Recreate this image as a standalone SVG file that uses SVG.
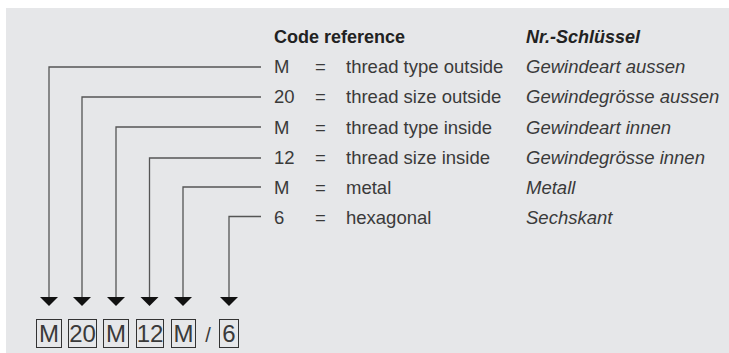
<svg xmlns="http://www.w3.org/2000/svg" width="729" height="353" viewBox="0 0 729 353">
<defs>
<style>
.t{font-family:"Liberation Sans",Arial,sans-serif;font-size:18.5px;fill:#3a3a3a}
.g{font-family:"Liberation Sans",Arial,sans-serif;font-size:18.5px;font-style:italic;fill:#3a3a3a}
.h{font-family:"Liberation Sans",Arial,sans-serif;font-size:18px;font-weight:bold;fill:#222}
.b{font-family:"Liberation Sans",Arial,sans-serif;font-size:24px;fill:#3a3a3a;text-anchor:middle}
.box{fill:none;stroke:#333;stroke-width:1}
.ln{fill:none;stroke:#555;stroke-width:1.3}
.ah{fill:#111}
</style>
</defs>
<rect x="6" y="8" width="723" height="345" fill="#e6e7e9"/>
<g id="header">
<text class="h" x="274" y="43">Code reference</text>
<text class="h" x="526" y="43" font-style="italic">Nr.-Schlüssel</text>
</g>
<g id="row1">
<text class="t" x="274" y="73">M</text><text class="t" x="315" y="73">=</text>
<text class="t" x="346" y="73">thread type outside</text><text class="g" x="526" y="73">Gewindeart aussen</text>
</g>
<g id="row2">
<text class="t" x="274" y="103">20</text><text class="t" x="315" y="103">=</text>
<text class="t" x="346" y="103">thread size outside</text><text class="g" x="526" y="103">Gewindegrösse aussen</text>
</g>
<g id="row3">
<text class="t" x="274" y="134">M</text><text class="t" x="315" y="134">=</text>
<text class="t" x="346" y="134">thread type inside</text><text class="g" x="526" y="134">Gewindeart innen</text>
</g>
<g id="row4">
<text class="t" x="274" y="164">12</text><text class="t" x="315" y="164">=</text>
<text class="t" x="346" y="164">thread size inside</text><text class="g" x="526" y="164">Gewindegrösse innen</text>
</g>
<g id="row5">
<text class="t" x="274" y="194">M</text><text class="t" x="315" y="194">=</text>
<text class="t" x="346" y="194">metal</text><text class="g" x="526" y="194">Metall</text>
</g>
<g id="row6">
<text class="t" x="274" y="224">6</text><text class="t" x="315" y="224">=</text>
<text class="t" x="346" y="224">hexagonal</text><text class="g" x="526" y="224">Sechskant</text>
</g>
<g id="connectors">
<path class="ln" d="M261 67H49V298"/>
<path class="ln" d="M261 97H82V298"/>
<path class="ln" d="M261 127H116V298"/>
<path class="ln" d="M261 158H149.5V298"/>
<path class="ln" d="M261 187H183V298"/>
<path class="ln" d="M261 216.5H229V298"/>
<polygon class="ah" points="40,297 58,297 49,306"/>
<polygon class="ah" points="73,297 91,297 82,306"/>
<polygon class="ah" points="107,297 125,297 116,306"/>
<polygon class="ah" points="140.5,297 158.5,297 149.5,306"/>
<polygon class="ah" points="174,297 192,297 183,306"/>
<polygon class="ah" points="220,297 238,297 229,306"/>
</g>
<g id="code">
<rect class="box" x="36.5" y="319.5" width="25" height="28"/><text class="b" x="49" y="342">M</text>
<rect class="box" x="68.5" y="319.5" width="28" height="28"/><text class="b" x="82.5" y="342">20</text>
<rect class="box" x="103.5" y="319.5" width="25" height="28"/><text class="b" x="116" y="342">M</text>
<rect class="box" x="136.5" y="319.5" width="27" height="28"/><text class="b" x="150" y="342">12</text>
<rect class="box" x="171.5" y="319.5" width="24" height="28"/><text class="b" x="183.5" y="342">M</text>
<text class="b" x="208" y="342" style="font-size:20px">/</text>
<rect class="box" x="219.5" y="319.5" width="19" height="28"/><text class="b" x="229" y="342">6</text>
</g>
</svg>
